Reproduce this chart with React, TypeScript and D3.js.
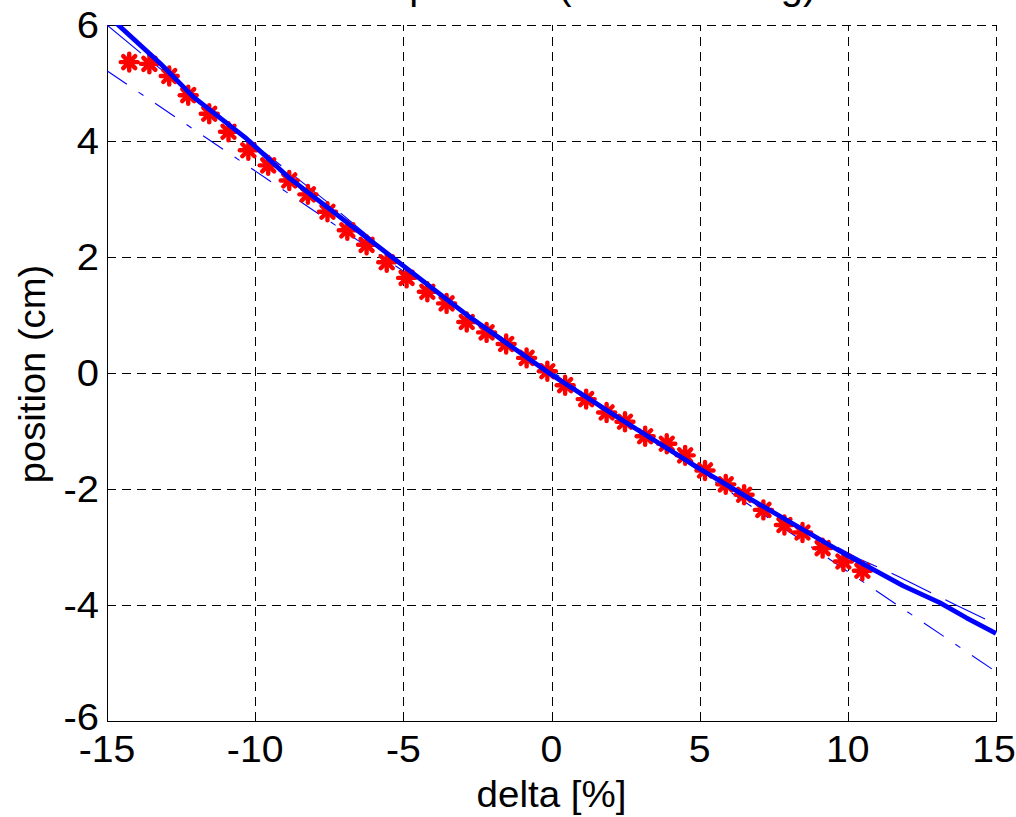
import React from "react";
import * as d3 from "d3";

const xTicks = [-15, -10, -5, 0, 5, 10, 15];
const yTicks = [-6, -4, -2, 0, 2, 4, 6];

const markerX = [-14.25, -13.57, -12.9, -12.26, -11.55, -10.9, -10.23, -9.56, -8.85, -8.22, -7.56, -6.89, -6.24, -5.56, -4.89, -4.19, -3.54, -2.86, -2.19, -1.53, -0.84, -0.14, 0.46, 1.17, 1.86, 2.48, 3.16, 3.89, 4.51, 5.18, 5.88, 6.5, 7.15, 7.86, 8.47, 9.15, 9.85, 10.49];
const markerY = [5.36, 5.33, 5.12, 4.79, 4.47, 4.16, 3.84, 3.58, 3.32, 3.08, 2.78, 2.46, 2.21, 1.91, 1.64, 1.4, 1.2, 0.88, 0.7, 0.5, 0.26, 0.03, -0.21, -0.45, -0.68, -0.84, -1.09, -1.22, -1.42, -1.68, -1.92, -2.1, -2.36, -2.62, -2.75, -3.02, -3.25, -3.41];

const thickX = [-15, -14.62, -13.21, -12.09, -10.29, -8.82, -5.03, -2.75, 0, 2.31, 5, 6.7, 10, 11.87, 13.1, 14.0, 15];
const thickY = [6.18, 6.0, 5.34, 4.76, 4.04, 3.35, 1.86, 0.96, -0.03, -0.79, -1.65, -2.17, -3.15, -3.67, -3.96, -4.22, -4.49];

const fitX = [-15, -13.77, -12.5, -10, -7.5, -5, -2.5, 0, 2.5, 5, 7.5, 10, 10.41, 11.76, 13.56, 15];
const fitY = [6.0, 5.48, 4.96, 3.93, 2.92, 1.86, 0.88, -0.03, -0.86, -1.66, -2.42, -3.1, -3.21, -3.52, -3.98, -4.33];

const linX = [-15, 15];
const linY = [5.21, -5.15];

const W = 1016;
const H = 817;
const L = 107, R = 996, T = 25, B = 721;
const FONT = "'Liberation Sans', Arial, Helvetica, sans-serif";

export default function App() {
  const x = d3.scaleLinear().domain([-15, 15]).range([L, R]);
  const y = d3.scaleLinear().domain([-6, 6]).range([B, T]);
  const line = d3.line<[number, number]>().x(d => x(d[0])).y(d => y(d[1]));
  const thick = thickX.map((v, i) => [v, thickY[i]] as [number, number]);
  const fit = fitX.map((v, i) => [v, fitY[i]] as [number, number]);
  const lin = linX.map((v, i) => [v, linY[i]] as [number, number]);
  const s = 8.5;
  const sd = 6;
  const px = (v: number) => Math.round(v) + 0.5;

  return (
    <svg width={W} height={H} style={{ position: "absolute", left: 0, top: 0, background: "#fff" }}>
      <defs>
        <clipPath id="plotclip">
          <rect x={L} y={T} width={R - L + 1} height={B - T} />
        </clipPath>
      </defs>
      <rect x={0} y={0} width={W} height={H} fill="#fff" />
      {/* grid */}
      <g shapeRendering="crispEdges">
        {xTicks.filter(t => t !== -15).map(t => (
          <line key={"gx" + t} x1={px(x(t))} x2={px(x(t))} y1={B} y2={T} stroke="#000" strokeWidth={1} strokeDasharray="9 6" />
        ))}
        {yTicks.filter(t => t !== -6).map(t => (
          <line key={"gy" + t} x1={L} x2={R + 1} y1={px(y(t))} y2={px(y(t))} stroke="#000" strokeWidth={1} strokeDasharray="9 6" />
        ))}
        {/* axes */}
        <line x1={px(L)} x2={px(L)} y1={T} y2={B + 1} stroke="#000" strokeWidth={1.5} />
        <line x1={L} x2={R + 1} y1={px(B)} y2={px(B)} stroke="#000" strokeWidth={1.5} />
        {xTicks.map(t => (
          <line key={"tx" + t} x1={px(x(t))} x2={px(x(t))} y1={B} y2={B - 9} stroke="#000" strokeWidth={1} />
        ))}
        {yTicks.map(t => (
          <line key={"ty" + t} x1={L} x2={L + 9} y1={px(y(t))} y2={px(y(t))} stroke="#000" strokeWidth={1} />
        ))}
      </g>
      <g clipPath="url(#plotclip)">
        <path d={line(lin) || ""} fill="none" stroke="#0000ff" strokeWidth={1.1} strokeDasharray="24 14 6 14" />
        <path d={line(fit) || ""} fill="none" stroke="#0000ff" strokeWidth={1.1} strokeDasharray="44 16" />
      </g>
      {/* markers */}
      <g stroke="#ff0000" strokeWidth={4.4} strokeLinecap="round">
        {markerX.map((mx, i) => {
          const cx = x(mx), cy = y(markerY[i]);
          return (
            <g key={"m" + i}>
              <line x1={cx - s} x2={cx + s} y1={cy} y2={cy} />
              <line x1={cx} x2={cx} y1={cy - s} y2={cy + s} />
              <line x1={cx - sd} x2={cx + sd} y1={cy - sd} y2={cy + sd} />
              <line x1={cx - sd} x2={cx + sd} y1={cy + sd} y2={cy - sd} />
            </g>
          );
        })}
      </g>
      <g clipPath="url(#plotclip)">
        <path d={line(thick) || ""} fill="none" stroke="#0000ff" strokeWidth={4.8} strokeLinejoin="round" />
      </g>
      {/* tick labels */}
      {xTicks.map(t => (
        <text key={"lx" + t} transform={`translate(${t === 15 ? x(t) - 2 : x(t)},762) scale(1.06,1)`} textAnchor="middle" fontFamily={FONT} fontSize={37} fill="#000">{t}</text>
      ))}
      {yTicks.map(t => (
        <text key={"ly" + t} transform={`translate(${L - 8},${y(t) + (t === -6 ? -4 : 0)}) scale(1.08,1)`} dy="0.36em" textAnchor="end" fontFamily={FONT} fontSize={37} fill="#000">{t}</text>
      ))}
      <text transform={`translate(${(L + R) / 2},807) scale(1.07,1)`} textAnchor="middle" fontFamily={FONT} fontSize={36} fill="#000">delta [%]</text>
      <text transform={`translate(45,${(T + B) / 2 + 1}) rotate(-90) scale(1.06,1)`} textAnchor="middle" fontFamily={FONT} fontSize={36} fill="#000">position (cm)</text>
      <text x={555} y={-1} textAnchor="middle" fontFamily={FONT} fontSize={40} fill="#000">Beam position (BPM reading)</text>
    </svg>
  );
}
